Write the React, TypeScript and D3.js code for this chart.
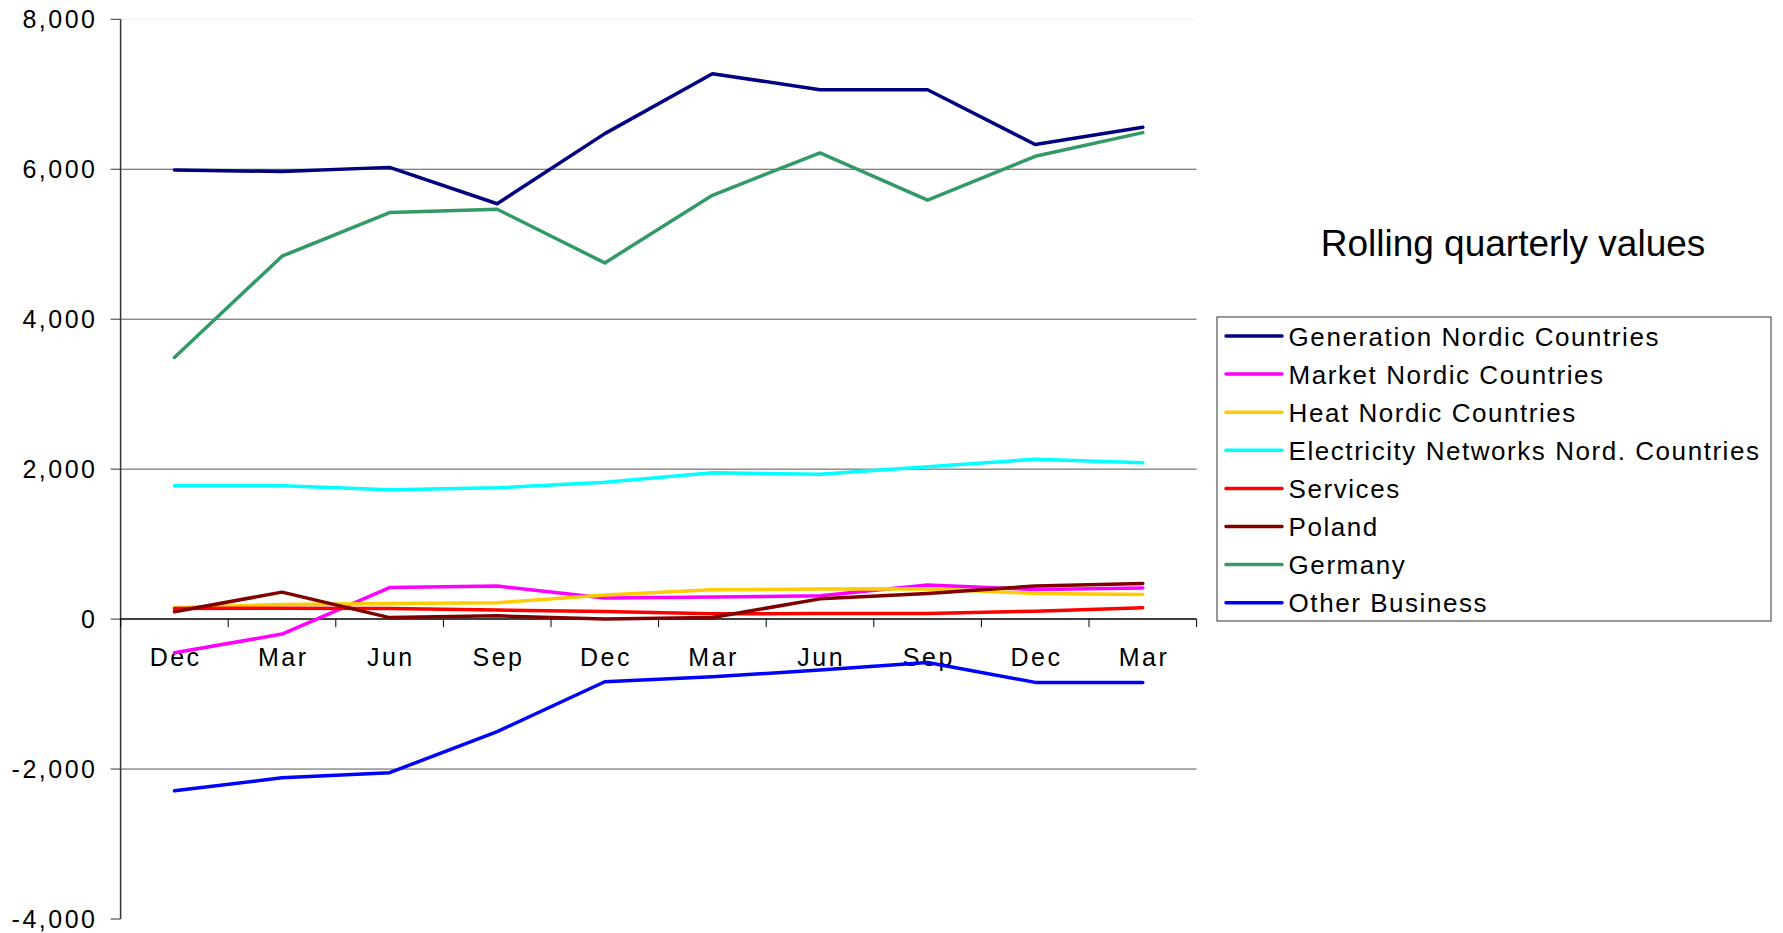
import React from "react";
import * as d3 from "d3";

const categories = ["Dec", "Mar", "Jun", "Sep", "Dec", "Mar", "Jun", "Sep", "Dec", "Mar"];
const yTicks = [-4000, -2000, 0, 2000, 4000, 6000, 8000];

const generationNordic = [5990, 5970, 6025, 5540, 6475, 7275, 7060, 7060, 6330, 6560];
const marketNordic = [-450, -200, 420, 440, 280, 295, 310, 455, 395, 415];
const heatNordic = [150, 196, 209, 218, 320, 390, 400, 405, 342, 329];
const electricityNetworks = [1778, 1778, 1724, 1751, 1825, 1951, 1933, 2031, 2133, 2084];
const services = [140, 145, 140, 120, 100, 70, 76, 76, 105, 151];
const poland = [98, 360, 20, 44, 0, 22, 270, 342, 442, 475];
const germany = [3489, 4840, 5422, 5467, 4751, 5653, 6218, 5587, 6173, 6489];
const otherBusiness = [-2290, -2116, -2049, -1500, -836, -769, -680, -578, -844, -847];

const seriesNames = [
  "Generation Nordic Countries",
  "Market Nordic Countries",
  "Heat Nordic Countries",
  "Electricity Networks Nord. Countries",
  "Services",
  "Poland",
  "Germany",
  "Other Business",
];
const seriesColors = ["#000080", "#FF00FF", "#FFCC00", "#00FFFF", "#FF0000", "#800000", "#339966", "#0000FF"];
const seriesValues = [
  generationNordic,
  marketNordic,
  heatNordic,
  electricityNetworks,
  services,
  poland,
  germany,
  otherBusiness,
];
const title = "Rolling quarterly values";

const W = 1783;
const H = 933;
const plotLeft = 120.6;
const plotRight = 1196.6;
const plotTop = 19.3;
const plotBottom = 919;

const fmt = (v: number) => d3.format(",")(v).replace("\u2212", "-");

export default function App() {
  const x = d3
    .scaleBand<number>()
    .domain(categories.map((_, i) => i))
    .range([plotLeft, plotRight])
    .paddingInner(0)
    .paddingOuter(0);
  const y = d3.scaleLinear().domain([-4000, 8000]).range([plotBottom, plotTop]);
  const cx = (i: number) => (x(i) as number) + x.bandwidth() / 2;
  const line = d3
    .line<number>()
    .x((_, i) => cx(i))
    .y((d) => y(d));

  const axisFont = "'Liberation Sans', Arial, sans-serif";
  const y0 = y(0);

  const legendX = 1217;
  const legendY = 317;
  const legendW = 554;
  const legendH = 304;
  const rowStart = 336;
  const rowStep = 38.1;

  return (
    <svg
      width={W}
      height={H}
      style={{ position: "absolute", left: 0, top: 0, display: "block", background: "#fff" }}
      fontFamily={axisFont}
    >
      <rect x={0} y={0} width={W} height={H} fill="#fff" />
      <line x1={plotLeft} x2={plotRight} y1={plotTop} y2={plotTop} stroke="#f0f0f0" strokeWidth={1} />
      {yTicks
        .filter((t) => t !== 0 && t !== -4000 && t !== 8000)
        .map((t) => (
          <line key={"g" + t} x1={plotLeft} x2={plotRight} y1={y(t)} y2={y(t)} stroke="#555" strokeWidth={1} />
        ))}
      <line x1={plotLeft} x2={plotLeft} y1={plotTop} y2={plotBottom} stroke="#333" strokeWidth={1.5} />
      {yTicks.map((t) => (
        <g key={"yt" + t}>
          <line x1={plotLeft - 10} x2={plotLeft} y1={y(t)} y2={y(t)} stroke="#333" strokeWidth={1} />
          <text
            x={97.5}
            y={y(t)}
            textAnchor="end"
            dominantBaseline="central"
            fontSize={25}
            letterSpacing={2.5}
            fill="#000"
          >
            {fmt(t)}
          </text>
        </g>
      ))}
      <line x1={plotLeft} x2={plotRight} y1={y0} y2={y0} stroke="#000" strokeWidth={1.5} />
      {categories.map((_, i) => (
        <line
          key={"xt" + i}
          x1={x(i) as number}
          x2={x(i) as number}
          y1={y0}
          y2={y0 + 8}
          stroke="#000"
          strokeWidth={1}
        />
      ))}
      <line x1={plotRight} x2={plotRight} y1={y0} y2={y0 + 8} stroke="#000" strokeWidth={1} />
      {categories.map((c, i) => (
        <text
          key={"xl" + i}
          x={cx(i) + 1.25}
          y={y0 + 46.5}
          textAnchor="middle"
          fontSize={25}
          letterSpacing={2.5}
          fill="#000"
        >
          {c}
        </text>
      ))}
      {seriesValues.map((vals, si) => (
        <path
          key={"s" + si}
          d={line(vals) || ""}
          fill="none"
          stroke={seriesColors[si]}
          strokeWidth={3.5}
          strokeLinejoin="round"
          strokeLinecap="round"
        />
      ))}
      <text x={1513} y={256} textAnchor="middle" fontSize={37} fill="#000">
        {title}
      </text>
      <rect x={legendX} y={legendY} width={legendW} height={legendH} fill="#fff" stroke="#333" strokeWidth={1} />
      {seriesNames.map((n, i) => {
        const ry = rowStart + i * rowStep;
        return (
          <g key={"lg" + i}>
            <line x1={1226} x2={1282} y1={ry} y2={ry} stroke={seriesColors[i]} strokeWidth={3.5} strokeLinecap="round" />
            <text x={1288.6} y={ry + 9.5} fontSize={26} letterSpacing={1.55} fill="#000">
              {n}
            </text>
          </g>
        );
      })}
    </svg>
  );
}
